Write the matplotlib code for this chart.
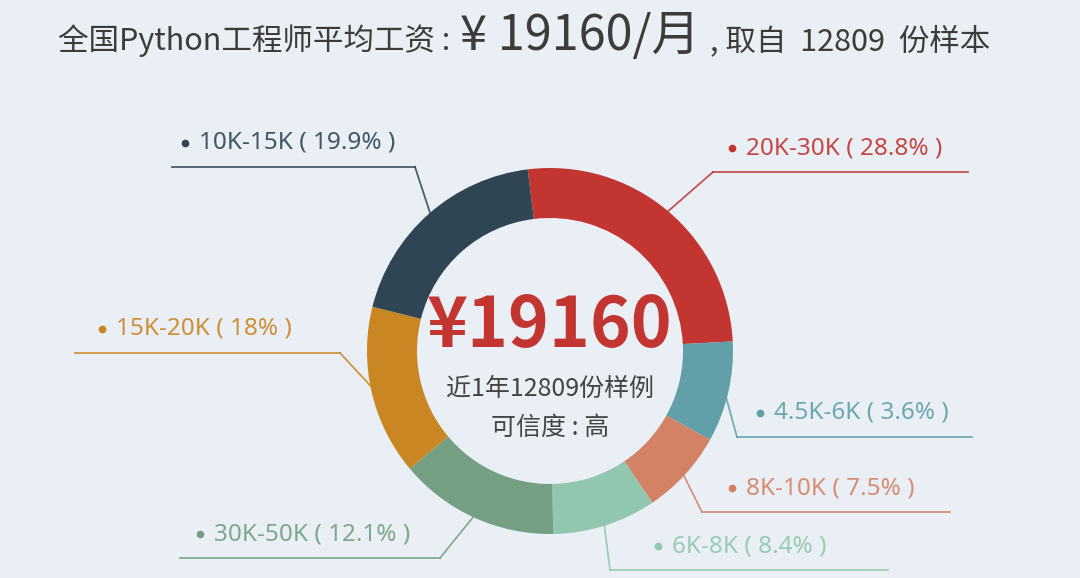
import numpy as np
import matplotlib.pyplot as plt

plt.rcParams['font.family'] = ['Noto Sans CJK SC', 'DejaVu Sans']

# salary bands, clockwise from the top of the ring
labels = ['20K-30K', '4.5K-6K', '8K-10K', '6K-8K', '30K-50K', '15K-20K', '10K-15K']
shares = ['28.8%', '3.6%', '7.5%', '8.4%', '12.1%', '18%', '19.9%']
# angular size of each segment as drawn on the ring (degrees)
ring_deg = [94, 32, 27, 33, 51, 54, 69]
colors = ['#c23531', '#61a0a8', '#d48265', '#91c7ae', '#749f83', '#ca8622', '#2f4554']

avg_salary = 19160
samples = 12809

# label placement in pixels: line start x, line end x, line y, dot x
label_pos = [
    (713, 968, 172, 732),
    (737, 972, 437, 760),
    (702, 950, 512, 732),
    (610, 888, 570, 658),
    (180, 440, 558, 200),
    (75, 340, 353, 102),
    (172, 415, 167, 185),
]

W, H = 1080, 578
bg = '#e9eff5'
cx, cy, r_out, ring_w = 550, 351, 183, 50


def Y(y):
    return H - y


fig = plt.figure(figsize=(W / 100, H / 100), dpi=100, facecolor=bg)
ax = fig.add_axes([0, 0, 1, 1])
ax.set_facecolor(bg)

wedges, _ = ax.pie(ring_deg, colors=colors, startangle=97, counterclock=False,
                   radius=r_out, center=(cx, Y(cy)),
                   wedgeprops=dict(width=ring_w, linewidth=0.6, edgecolor='none'))
for w in wedges:
    w.set_zorder(3)

ax.set_xlim(0, W)
ax.set_ylim(0, H)
ax.set_aspect('equal')
ax.axis('off')

for w, lab, sh, col, (x0, x1, ly, dx) in zip(wedges, labels, shares, colors, label_pos):
    mid = np.deg2rad((w.theta1 + w.theta2) / 2)
    px, py = cx + (r_out - 4) * np.cos(mid), Y(cy) + (r_out - 4) * np.sin(mid)
    ex = x0 if (x0 + x1) / 2 > cx else x1
    ax.plot([px, ex], [py, Y(ly)], color=col, lw=1.3, zorder=2, alpha=0.85)
    ax.plot([x0, x1], [Y(ly), Y(ly)], color=col, lw=1.3, zorder=2, alpha=0.85)
    ax.plot(dx, Y(ly - 24), 'o', color=col, ms=4.5, zorder=4)
    ax.text(dx + 14, Y(ly - 24), f'{lab} ( {sh} )', color=col, alpha=0.9,
            fontsize=17.5, va='center', ha='left', zorder=4,
            family=['Noto Sans', 'DejaVu Sans'])

# centre text
ax.text(cx, Y(327), f'¥{avg_salary}', color='#c23531', fontsize=50,
        fontweight='bold', ha='center', va='center', zorder=4)
ax.text(cx, Y(389), f'近1年{samples}份样例', color='#444444', fontsize=18,
        ha='center', va='center', zorder=4)
ax.text(cx, Y(428), '可信度 : 高', color='#444444', fontsize=18,
        ha='center', va='center', zorder=4)

# title, laid out piece by piece
renderer = fig.canvas.get_renderer()
x = 58
for txt, size, gap in [('全国Python工程师平均工资 :', 22, 10),
                       (f'¥ {avg_salary}/月', 35, 10),
                       (f', 取自  {samples}  份样本', 22, 0)]:
    t = ax.text(x, Y(50), txt, fontsize=size, color='#3c3c3c',
                ha='left', va='baseline')
    bb = t.get_window_extent(renderer)
    x = bb.x1 + gap

fig.savefig('out.png', dpi=100, facecolor=bg)
